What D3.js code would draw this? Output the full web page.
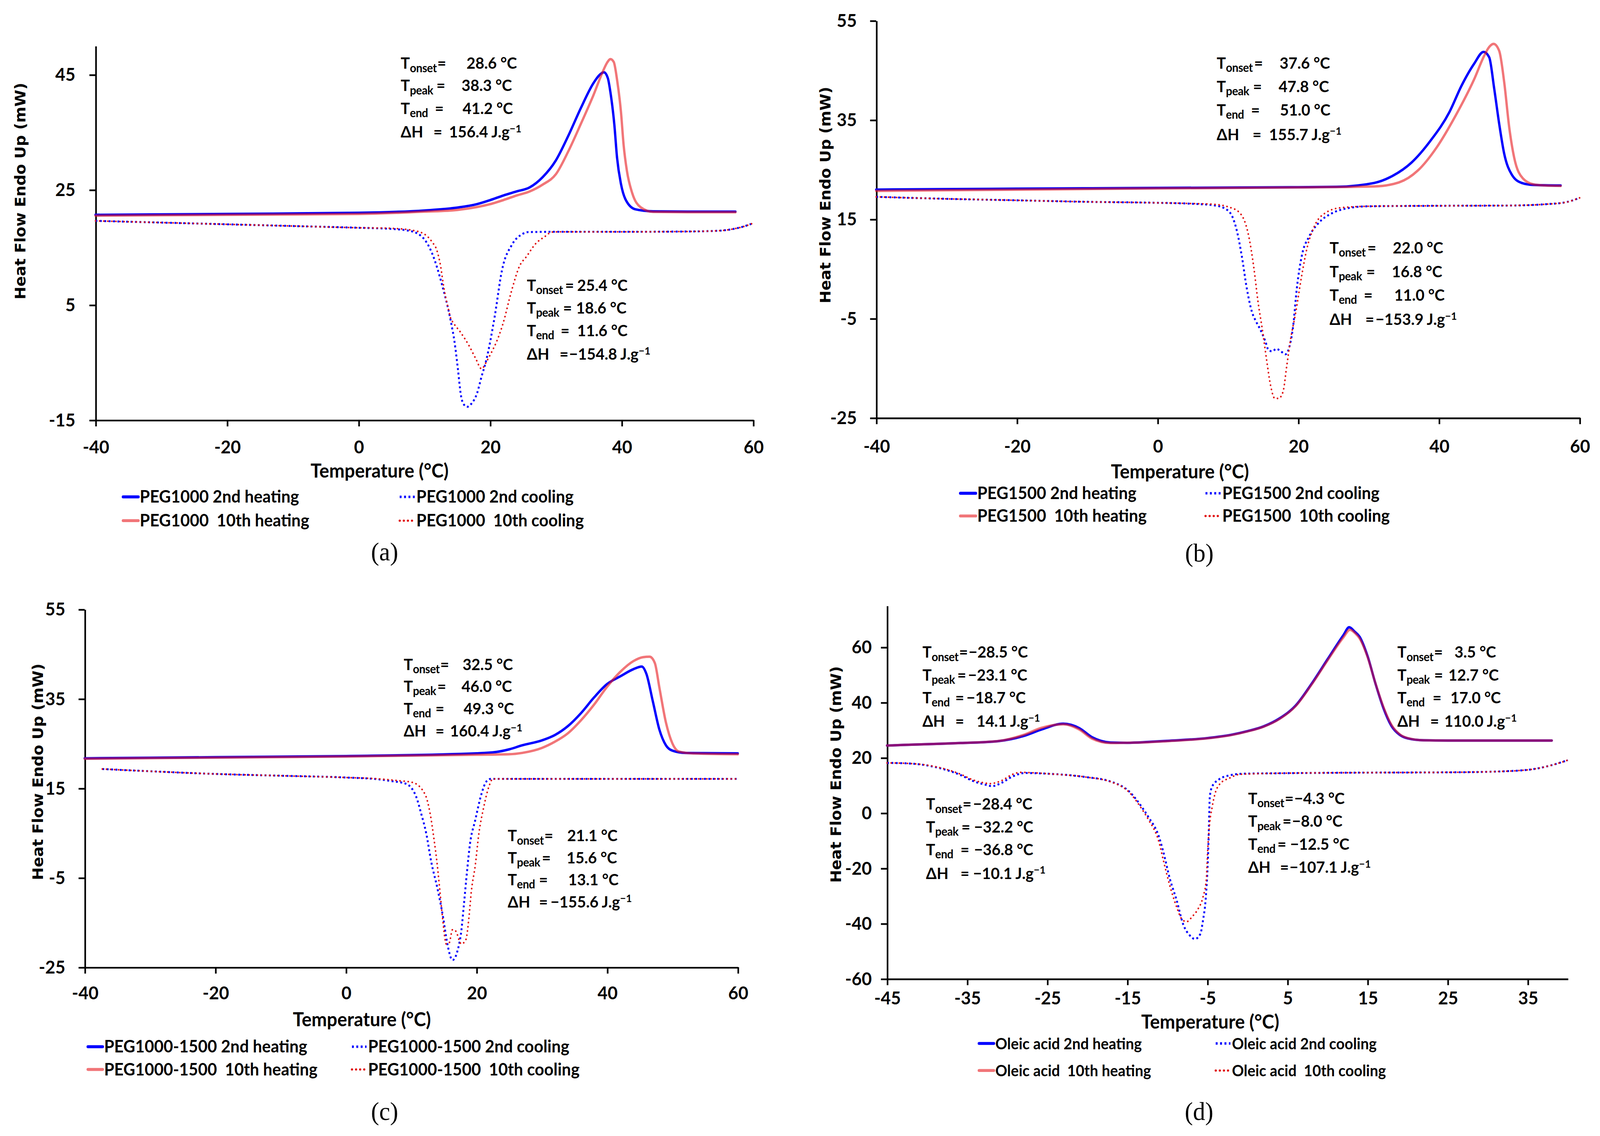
<!DOCTYPE html>
<html lang="en">
<head>
<meta charset="UTF-8">
<title>DSC curves: PEG1000, PEG1500, PEG1000-1500, oleic acid</title>
<script src="https://d3js.org/d3.v7.min.js"></script>
<style>
  html, body { margin: 0; padding: 0; width: 100%; height: 100%; overflow: hidden; background: #fff; }
  svg { display: block; width: 100vw; height: 100vh; }
  text { font-family: Lato, "Open Sans", sans-serif; font-weight: 700; fill: #000; white-space: pre; }
  .ytitle { font-family: "DejaVu Sans", Verdana, sans-serif; font-size: 14.5px; }
  .panel-label { font-family: "Liberation Serif", "DejaVu Serif", serif; font-weight: 400; font-size: 24px; }
  .axis path, .axis line { stroke: #000; stroke-width: 1.6; }
  .axis text { font-size: 17px; }
  .curve { fill: none; }
</style>
</head>
<body>
<svg id="chart" viewBox="0 0 1568 1070.2" preserveAspectRatio="none"></svg>
<script>
// ---- tick values ----
const ticksX_ac = [-40, -20, 0, 20, 40, 60];
const ticksY_a = [-15, 5, 25, 45];
const ticksY_bc = [-25, -5, 15, 35, 55];
const ticksX_d = [-45, -35, -25, -15, -5, 5, 15, 25, 35];
const ticksY_d = [-60, -40, -20, 0, 20, 40, 60];

// ---- (a) PEG1000: [temperature °C, heat flow mW] ----
const a_heat2 = [[-40,20.65],[-20,20.8],[0,21.0],[10,21.4],[15,21.9],[18,22.5],[20,23.2],[22,24.0],[24,24.7],[26,25.4],[28,27.2],[30,30.1],[31.9,34.4],[33.8,39.2],[35.7,43.5],[36.6,44.9],[37.3,45.4],[37.9,44.4],[38.3,41.9],[38.9,36.2],[39.3,30.6],[39.9,26.0],[40.6,23.3],[42.1,21.6],[44.8,21.25],[50,21.2],[57.3,21.2]];
const a_heat10 = [[-40,20.5],[-20,20.65],[0,20.8],[10,21.2],[15,21.5],[18,22.0],[20,22.5],[22,23.2],[24,24.0],[26,24.7],[28,25.9],[30,27.7],[31.9,31.7],[33.8,36.45],[35.7,41.4],[37.2,45.7],[37.8,47.1],[38.3,47.7],[38.8,47.2],[39.3,44.15],[39.9,38.5],[40.3,32.8],[40.8,28.3],[41.6,24.45],[42.9,21.95],[44.8,21.15],[50,21.1],[57.3,21.1]];
const a_cool2 = [[-40,19.6],[-30,19.3],[-20,19.0],[-10,18.7],[0,18.4],[5,18.2],[8,17.8],[10,16.4],[11.2,13.9],[12.7,8.45],[14.0,2.3],[14.6,-1.5],[15.1,-6.1],[15.55,-10.6],[15.9,-12.1],[16.5,-12.7],[17.2,-12.1],[18.0,-10.4],[18.7,-7.45],[19.35,-4.9],[20.7,3.0],[21.8,11.0],[23.35,15.5],[24.9,17.3],[25.8,17.65],[30,17.7],[40,17.7],[50,17.75],[55,17.9],[57,18.2],[58.5,18.6],[60,19.2]];
const a_cool10 = [[-40,19.6],[-30,19.3],[-20,19.0],[-10,18.7],[0,18.4],[5,18.3],[8,18.0],[10,17.3],[11.2,15.9],[11.9,14.5],[12.5,11.55],[12.85,8.85],[13.2,6.55],[13.6,4.6],[14.0,2.7],[14.4,1.9],[15.5,0.25],[16.85,-2.2],[17.8,-4.3],[18.7,-6.1],[19.5,-4.75],[20.25,-3.15],[21.0,-1.35],[22.2,2.7],[22.9,5.9],[23.5,8.4],[24.4,11.55],[25.6,13.5],[26.9,15.6],[28.3,16.85],[29.4,17.65],[31,17.7],[40,17.7],[50,17.75],[55,17.9],[57,18.2],[58.5,18.6],[60,19.2]];

// ---- (b) PEG1500 ----
const b_heat2 = [[-40,20.96],[-20,21.15],[0,21.3],[20,21.45],[25.4,21.52],[30.8,22.3],[33.45,23.75],[36.1,26.4],[38.8,30.8],[41.5,36.6],[43.2,41.85],[45.0,46.3],[46.35,48.7],[47.15,47.6],[47.86,41.3],[48.57,34.2],[49.28,28.2],[50.35,24.0],[51.77,22.3],[53.5,21.9],[57.3,21.8]];
const b_heat10 = [[-40,20.7],[-20,20.95],[0,21.2],[20,21.4],[30.8,21.6],[34.3,22.4],[37.0,24.8],[39.7,29.5],[42.35,35.8],[45.0,43.15],[46.43,47.9],[47.1,49.6],[47.77,50.3],[48.57,48.9],[49.28,42.6],[50.0,33.45],[50.7,27.4],[51.95,23.2],[53.5,22.0],[55,21.8],[57.3,21.7]];
const b_cool2 = [[-40,19.5],[-30,19.1],[-20,18.8],[-10,18.5],[0,18.3],[5,18.1],[8,17.8],[9.5,17.2],[10.55,15.75],[11.3,12.5],[11.97,7.6],[12.68,1.1],[13.4,-3.6],[14.0,-5.6],[14.6,-7.2],[15.3,-9.5],[15.8,-11.4],[16.3,-11.6],[16.9,-11.1],[17.6,-11.7],[18.2,-12.2],[18.7,-10.9],[19.26,-6.7],[19.8,1.1],[20.5,7.6],[21.57,11.55],[23.0,14.4],[24.8,16.2],[27,17.2],[30,17.6],[40,17.7],[50,17.75],[55,18.0],[58,18.4],[60,19.3]];
const b_cool10 = [[-40,19.5],[-30,19.1],[-20,18.8],[-10,18.5],[0,18.3],[5,18.15],[8,18.0],[10,17.5],[11.6,16.4],[13.0,11.3],[13.7,5.1],[14.27,-1.5],[14.98,-8.0],[15.5,-13.3],[16.06,-18.45],[16.68,-21.1],[17.2,-21.1],[17.83,-19.8],[18.37,-14.5],[18.9,-9.3],[19.6,-4.1],[20.5,3.7],[21.2,8.9],[22.3,13.6],[23.9,16.3],[26,17.3],[30,17.6],[40,17.7],[50,17.75],[55,18.0],[58,18.4],[60,19.3]];

// ---- (c) PEG1000-1500 ----
const c_heat2 = [[-40,21.7],[-20,21.95],[0,22.2],[20,22.8],[23,23.1],[25,23.7],[27,24.6],[30,25.7],[32,26.9],[34,28.9],[36,31.8],[38,35.3],[40,38.3],[42,40.0],[44,41.6],[45.3,42.2],[46,40.6],[47,34.4],[48,28.1],[49,24.6],[50,23.4],[52,22.9],[60,22.8]];
const c_heat10 = [[-40,21.6],[-20,21.85],[0,22.1],[20,22.5],[25,22.6],[27,22.9],[30,24.0],[32,25.4],[34,27.3],[36,30.2],[38,33.7],[40,37.7],[42,41.0],[44,43.4],[45.5,44.3],[46.5,44.4],[47.3,43.0],[48,37.5],[49,29.7],[50,25.0],[51,23.2],[53,22.8],[60,22.6]];
const c_cool2 = [[-37.3,19.3],[-30,18.8],[-20,18.2],[-10,17.8],[0,17.4],[5,17.0],[7,16.6],[9.2,16.0],[10.76,13.1],[11.53,9.3],[12.3,4.9],[13.07,-1.5],[14.0,-7.3],[14.9,-14.0],[15.46,-19.2],[16.33,-23.4],[17.1,-21.25],[17.67,-16.9],[18.06,-11.1],[18.53,-3.8],[19.0,2.6],[19.8,7.85],[20.75,13.7],[21.5,16.5],[22.2,17.1],[30,17.1],[60,17.1]];
const c_cool10 = [[-37.3,19.3],[-30,18.8],[-20,18.2],[-10,17.8],[0,17.4],[5,17.1],[8,16.7],[10.2,16.3],[12.1,13.7],[12.9,9.3],[13.5,3.5],[14.0,-2.3],[14.4,-8.1],[14.8,-14.0],[15.37,-19.8],[15.8,-19.6],[16.33,-16.6],[16.8,-16.9],[17.67,-19.8],[18.35,-18.9],[18.83,-14.0],[19.2,-8.1],[19.8,-2.3],[20.36,4.9],[21.1,10.75],[21.9,15.4],[22.5,17.1],[30,17.1],[60,17.1]];

// ---- (d) Oleic acid ----
const d_heat2 = [[-45,24.4],[-40,24.9],[-35.8,25.3],[-31.2,25.95],[-28,27.8],[-25.7,30.2],[-23,32.3],[-21,30.7],[-19.4,27.4],[-17.1,25.5],[-15,25.4],[-12.4,25.7],[-10,26.1],[-5,27.1],[-2,28.3],[0,29.6],[2,31.3],[4,34.2],[6,38.8],[8,46.7],[10,55.6],[12,64.4],[12.7,67.2],[13.4,65.6],[14,63.8],[15,56.8],[16,46.7],[17,37.8],[18,31.4],[19,28.3],[20,27.0],[22,26.3],[25,26.2],[38,26.2]];
const d_heat10 = [[-45,24.4],[-40,24.9],[-35.8,25.3],[-31.2,26.0],[-28,28.2],[-25.7,30.8],[-23,32.1],[-21,30.2],[-19.4,26.9],[-17.1,25.3],[-15,25.4],[-12.4,25.6],[-10,26.0],[-5,27.0],[-2,28.2],[0,29.5],[2,31.2],[4,34.0],[6,38.6],[8,46.4],[10,55.2],[12,63.6],[12.8,66.3],[13.5,64.9],[14,63.2],[15,56.5],[16,46.8],[17,38.2],[18,31.8],[19,28.5],[20,27.1],[22,26.3],[25,26.2],[38,26.2]];
const d_cool2 = [[-45,18.1],[-43,18.0],[-40,17.2],[-38,15.9],[-35.8,13.7],[-34.3,11.6],[-32.7,10.2],[-31.9,9.7],[-30.7,10.9],[-29.3,13.25],[-27.7,14.45],[-24.9,14.2],[-20.2,13.0],[-17.1,11.4],[-14.7,7.6],[-13.15,2.0],[-12.4,-1.3],[-11,-9.0],[-10.5,-14.1],[-9.67,-24.0],[-8.85,-31.45],[-8.02,-40.3],[-7.2,-44.3],[-6.55,-45.6],[-5.88,-43.8],[-5.55,-38.9],[-5.22,-31.45],[-5.05,-24.0],[-4.9,-14.1],[-4.8,-4.2],[-4.7,5.7],[-4.4,9.6],[-3.57,12.1],[-2.25,13.6],[-0.6,14.2],[5,14.4],[15,14.6],[25,14.7],[30,14.9],[35,15.6],[38,17.3],[40,19.1]];
const d_cool10 = [[-45,18.1],[-43,18.0],[-40,17.3],[-38,16.1],[-35.8,14.0],[-34.3,12.0],[-32.7,10.8],[-32.2,10.6],[-30.7,11.7],[-29.3,14.0],[-28.3,14.7],[-26.5,14.5],[-24.9,14.2],[-20.2,13.0],[-17.1,11.3],[-14.7,7.3],[-13.15,1.3],[-12.4,-2.2],[-11,-11.0],[-10.5,-17.1],[-9.67,-26.5],[-8.85,-33.9],[-8.19,-38.4],[-7.6,-39.35],[-6.86,-37.4],[-6.2,-34.9],[-5.55,-30.45],[-5.13,-24.0],[-4.97,-14.1],[-4.73,-4.2],[-4.4,2.2],[-4.07,6.7],[-3.41,10.6],[-2.25,12.6],[-0.9,14.0],[5,14.4],[15,14.6],[25,14.7],[30,14.9],[35,15.6],[38,17.3],[40,19.1]];

// ---- legend names ----
const namesA = ["PEG1000 2nd heating", "PEG1000  10th heating", "PEG1000 2nd cooling", "PEG1000  10th cooling"];
const namesB = ["PEG1500 2nd heating", "PEG1500  10th heating", "PEG1500 2nd cooling", "PEG1500  10th cooling"];
const namesC = ["PEG1000-1500 2nd heating", "PEG1000-1500  10th heating", "PEG1000-1500 2nd cooling", "PEG1000-1500  10th cooling"];
const namesD = ["Oleic acid 2nd heating", "Oleic acid  10th heating", "Oleic acid 2nd cooling", "Oleic acid  10th cooling"];

// ---- annotation values (onset, peak, end, enthalpy) ----
const notesA = [["28.6 °C", "38.3 °C", "41.2 °C", "156.4 J.g"], ["25.4 °C", "18.6 °C", "11.6 °C", "\u2212154.8 J.g"]];
const notesB = [["37.6 °C", "47.8 °C", "51.0 °C", "155.7 J.g"], ["22.0 °C", "16.8 °C", "11.0 °C", "\u2212153.9 J.g"]];
const notesC = [["32.5 °C", "46.0 °C", "49.3 °C", "160.4 J.g"], ["21.1 °C", "15.6 °C", "13.1 °C", "\u2212155.6 J.g"]];
const notesD = [["\u221228.5 °C", "\u221223.1 °C", "\u221218.7 °C", "14.1 J.g"], ["3.5 °C", "12.7 °C", "17.0 °C", "110.0 J.g"],
                ["\u221228.4 °C", "\u221232.2 °C", "\u221236.8 °C", "\u221210.1 J.g"], ["\u22124.3 °C", "\u22128.0 °C", "\u221212.5 °C", "\u2212107.1 J.g"]];
const subs = ["onset", "peak", "end"];

// ---- layout (viewBox units) ----
const styles = [
  { stroke: "#0000ff", width: 2.3 },
  { stroke: "#e8191e", width: 2.3, opacity: 0.6 },
  { stroke: "#0000ff", width: 1.85, dash: "1.85 2.45", cap: "butt" },
  { stroke: "#e01010", width: 1.6, dash: "0.1 3.9", cap: "round" }
];

const panels = [
  { x: [93.6, 738.1], y: [395.7, 43.2], xDom: [-40, 60], yDom: [-15, 50], xTicks: ticksX_ac, yTicks: ticksY_a,
    yPad: 13.7, xPad: 13.4, series: [a_heat2, a_heat10, a_cool2, a_cool10], names: namesA,
    legend: { rows: [473.6, 496], cols: [[120.7, 137], [391.7, 408]], size: 16 },
    xTitle: [372, 449.9], yTitle: [20, 180], label: ["(a)", 376.9, 528],
    notes: [
      { vals: notesA[0], x: 392.7, eq: [428.6, 427.7, 426.2, 424.7], val: [457.2, 452.3, 453.3, 440], y: [64.9, 85.9, 107.3, 129.6] },
      { vals: notesA[1], x: 516.3, eq: [553.8, 551.8, 549.4, 548.4], val: [565.6, 564.6, 565.6, 556.7], y: [274.2, 295.5, 316.8, 338.9] }
    ] },
  { x: [858.7, 1548], y: [393.6, 19.4], xDom: [-40, 60], yDom: [-25, 55], xTicks: ticksX_ac, yTicks: ticksY_bc,
    yPad: 13, xPad: 14.6, series: [b_heat2, b_heat10, b_cool2, b_cool10], names: namesB,
    legend: { rows: [470.2, 491.6], cols: [[941.2, 957.7], [1181.4, 1197.8]], size: 16 },
    xTitle: [1156.4, 450.8], yTitle: [808.7, 183.7], label: ["(b)", 1175.4, 529],
    notes: [
      { vals: notesB[0], x: 1192.4, eq: [1229, 1228, 1226, 1227.5], val: [1254, 1253, 1254.4, 1243.7], y: [64.6, 86.8, 108.9, 132] },
      { vals: notesB[1], x: 1303, eq: [1340, 1339, 1336.5, 1338], val: [1364.9, 1364, 1366.4, 1348], y: [238.8, 261.3, 283.4, 306.2] }
    ] },
  { x: [83, 723], y: [911.2, 574], xDom: [-40, 60], yDom: [-25, 55], xTicks: ticksX_ac, yTicks: ticksY_bc,
    yPad: 13, xPad: 12, series: [c_heat2, c_heat10, c_cool2, c_cool10], names: namesC,
    legend: { rows: [991.6, 1013], cols: [[86.2, 102], [344.9, 360.7]], size: 16 },
    xTitle: [354.7, 966.8], yTitle: [37, 727.1], label: ["(c)", 376.9, 1055],
    notes: [
      { vals: notesC[0], x: 395.6, eq: [430.1, 428.6, 426.7, 426.7], val: [453.3, 452.3, 454.3, 441], y: [631.2, 652, 673, 694] },
      { vals: notesC[1], x: 497.6, eq: [532.1, 531.1, 528.2, 528.2], val: [555.8, 555.3, 556.8, 539.5], y: [792.6, 813.3, 834, 855] }
    ] },
  { x: [869.3, 1536.4], y: [922.1, 570.6], xDom: [-45, 40], yDom: [-60, 75], xTicks: ticksX_d, yTicks: ticksY_d,
    yPad: 9, xPad: 6, series: [d_heat2, d_heat10, d_cool2, d_cool10], names: namesD,
    legend: { rows: [988.5, 1014], cols: [[959.5, 975.4], [1191.4, 1207.3]], size: 14.5 },
    xTitle: [1186, 969], yTitle: [819.2, 729.6], label: ["(d)", 1175.1, 1055],
    notes: [
      { vals: notesD[0], x: 904, eq: [938.2, 938.2, 936.2, 936.2], val: [948.6, 948.6, 947.1, 957], y: [619.7, 641.2, 662.6, 684.8] },
      { vals: notesD[1], x: 1369.4, eq: [1404, 1405.5, 1404, 1401.6], val: [1425.4, 1419.4, 1421.4, 1415.5], y: [619.7, 641.2, 662.6, 684.8] },
      { vals: notesD[2], x: 907.5, eq: [942.2, 942.2, 941.2, 941.2], val: [953.6, 954.5, 954.5, 953.6], y: [762.8, 784.3, 805.8, 828] },
      { vals: notesD[3], x: 1223.2, eq: [1256.9, 1256.9, 1251.9, 1254.4], val: [1264.3, 1265.8, 1264.3, 1262.8], y: [757.5, 779, 800.5, 822.3] }
    ] }
];

const svg = d3.select("#chart");
svg.append("rect").attr("width", 1568).attr("height", 1070.2).attr("fill", "#fff");

function styleLine(sel, s) {
  sel.attr("stroke", s.stroke)
    .attr("stroke-width", s.width)
    .attr("stroke-opacity", s.opacity || 1)
    .attr("stroke-dasharray", s.dash || null)
    .attr("stroke-linecap", s.cap || "round")
    .attr("stroke-linejoin", "round");
}

panels.forEach(p => {
  const g = svg.append("g");
  const x = d3.scaleLinear().domain(p.xDom).range(p.x);
  const y = d3.scaleLinear().domain(p.yDom).range(p.y);

  // axes (plain hyphen for negative ticks, as in the figure)
  g.append("g")
    .attr("class", "axis")
    .attr("transform", `translate(0,${p.y[0]})`)
    .call(d3.axisBottom(x).tickValues(p.xTicks).tickFormat(d => String(d))
      .tickSize(6).tickSizeOuter(0).tickPadding(p.xPad));

  g.append("g")
    .attr("class", "axis")
    .attr("transform", `translate(${p.x[0]},0)`)
    .call(d3.axisLeft(y).tickValues(p.yTicks).tickFormat(d => String(d))
      .tickSize(6).tickSizeOuter(0).tickPadding(p.yPad));

  g.selectAll(".axis").attr("font-family", null).attr("font-size", null);

  // curves
  const line = d3.line().x(d => x(d[0])).y(d => y(d[1])).curve(d3.curveMonotoneX);
  p.series.forEach((data, i) => {
    g.append("path").datum(data).attr("class", "curve").attr("d", line).call(styleLine, styles[i]);
  });

  // titles
  g.append("text").attr("x", p.xTitle[0]).attr("y", p.xTitle[1])
    .attr("text-anchor", "middle").style("font-size", "18px").text("Temperature (°C)");
  g.append("text").attr("class", "ytitle")
    .attr("transform", `translate(${p.yTitle[0]},${p.yTitle[1]}) rotate(-90)`)
    .attr("text-anchor", "middle").attr("dominant-baseline", "central")
    .text("Heat Flow Endo Up (mW)");
  g.append("text").attr("class", "panel-label")
    .attr("x", p.label[1]).attr("y", p.label[2]).attr("text-anchor", "middle").text(p.label[0]);

  // legend
  p.names.forEach((name, i) => {
    const col = p.legend.cols[Math.floor(i / 2)];
    const ry = p.legend.rows[i % 2];
    const s = Object.assign({}, styles[i], { width: styles[i].width + 0.5 });
    g.append("line").attr("x1", col[0]).attr("x2", col[1] - 1.5)
      .attr("y1", ry - 5.5).attr("y2", ry - 5.5).call(styleLine, s);
    g.append("text").attr("x", col[1]).attr("y", ry)
      .attr("xml:space", "preserve")
      .style("font-size", p.legend.size + "px").text(name);
  });

  // annotations
  p.notes.forEach(n => {
    n.vals.forEach((v, i) => {
      const t = g.append("text").attr("x", n.x).attr("y", n.y[i])
        .attr("xml:space", "preserve").style("font-size", "15px");
      let end;
      if (i < 3) {
        const a = t.append("tspan").text("T");
        const b = t.append("tspan").attr("dy", 3).style("font-size", "11px")
          .style("letter-spacing", "-0.2px").text(subs[i]);
        end = n.x + a.node().getComputedTextLength() + b.node().getComputedTextLength();
      } else {
        const a = t.append("tspan").text("\u0394H");
        end = n.x + a.node().getComputedTextLength();
      }
      const eqX = Math.max(n.eq[i], end + 0.6);
      const e = t.append("tspan").attr("x", eqX).attr("dy", i < 3 ? -3 : null).text("=");
      const valX = Math.max(n.val[i], eqX + e.node().getComputedTextLength() + 0.6);
      t.append("tspan").attr("x", valX).text(v);
      if (i === 3) {
        t.append("tspan").attr("dy", -5).style("font-size", "10px").text("\u22121");
      }
    });
  });
});
</script>
</body>
</html>
